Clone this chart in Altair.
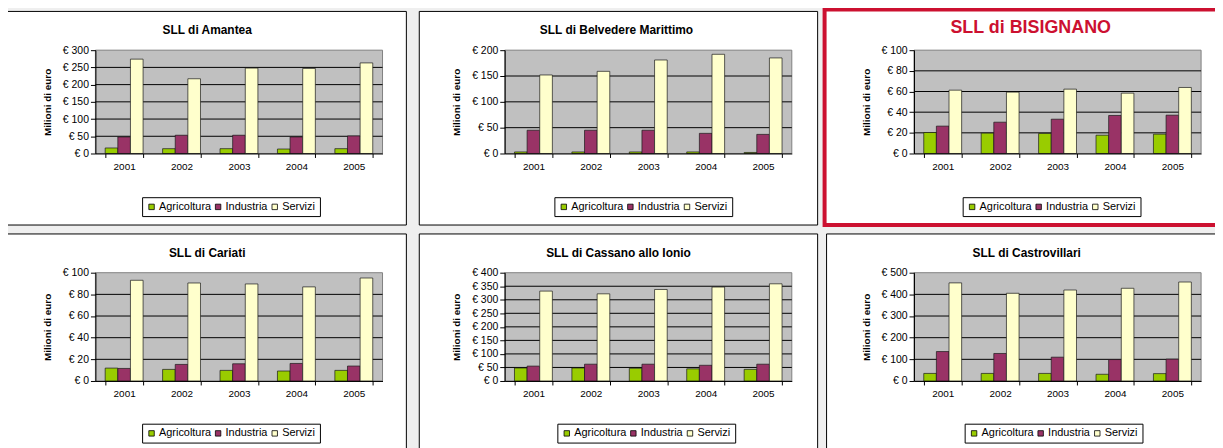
import altair as alt
import pandas as pd

FONT = "Liberation Sans"

anni = ["2001", "2002", "2003", "2004", "2005"]
settori = ["Agricoltura", "Industria", "Servizi"]
colori = ["#99cc00", "#993366", "#ffffcc"]

titoli = ["SLL di Amantea", "SLL di Belvedere Marittimo", "SLL di BISIGNANO",
          "SLL di Cariati", "SLL di Cassano allo Ionio", "SLL di Castrovillari"]

amantea_agr = [16, 14, 14, 13, 14]
amantea_ind = [48, 53, 53, 48, 51]
amantea_ser = [274, 217, 248, 247, 263]

belvedere_agr = [3, 3, 3, 3, 2]
belvedere_ind = [45, 45, 45, 39, 37]
belvedere_ser = [152, 159, 181, 192, 185]

bisignano_agr = [20.3, 19.7, 19.4, 17.7, 18.7]
bisignano_ind = [26.5, 30.3, 33.2, 36.8, 37.1]
bisignano_ser = [61.3, 59.4, 62.3, 58.4, 63.9]

cariati_agr = [11.9, 10.7, 9.8, 9.2, 9.8]
cariati_ind = [11.6, 15.3, 15.9, 16.2, 13.8]
cariati_ser = [93.0, 90.5, 89.6, 86.9, 95.1]

cassano_agr = [48, 48, 47, 45, 43]
cassano_ind = [55, 62, 62, 58, 62]
cassano_ser = [332, 322, 338, 347, 359]

castro_agr = [35, 35, 35, 31, 34]
castro_ind = [136, 127, 110, 99, 101]
castro_ser = [453, 405, 420, 428, 457]

tick_amantea = [0, 50, 100, 150, 200, 250, 300]
tick_belvedere = [0, 50, 100, 150, 200]
tick_bisignano = [0, 20, 40, 60, 80, 100]
tick_cariati = [0, 20, 40, 60, 80, 100]
tick_cassano = [0, 50, 100, 150, 200, 250, 300, 350, 400]
tick_castro = [0, 100, 200, 300, 400, 500]

W = 289
ROW_H = [104, 109]
RED = "#cc1030"


def panel(title, agr, ind, ser, ticks, height, frame, frame_color, frame_w,
          leg, title_size, title_color, title_dx):
    rows = []
    for i, a in enumerate(anni):
        for s, vals in zip(settori, (agr, ind, ser)):
            rows.append({"anno": a, "settore": s, "valore": vals[i]})
    df = pd.DataFrame(rows)
    one = pd.DataFrame({"k": [0]})
    ysc = alt.Scale(domain=[0, ticks[-1]], nice=False, zero=True)
    yaxis = alt.Axis(values=ticks, labelExpr="'€ ' + datum.value",
                     title="Milioni di euro", grid=False, tickSize=5,
                     tickColor="black", domainColor="black", labelFont=FONT,
                     labelFontSize=10.5, labelColor="black", labelPadding=2,
                     titleFont=FONT, titleFontSize=10, titleFontWeight="bold",
                     titleColor="black", titlePadding=10, zindex=1)
    fx0, fx1, fy0, fy1 = frame

    frame_l = alt.Chart(one).mark_rect(
        fill="white", stroke=frame_color, strokeWidth=frame_w
    ).encode(x=alt.value(fx0), x2=alt.value(fx1), y=alt.value(fy0), y2=alt.value(fy1))

    bg = alt.Chart(one).mark_rect(
        fill="#c0c0c0", stroke="#808080", strokeWidth=1
    ).encode(x=alt.value(0), x2=alt.value(W), y=alt.value(0), y2=alt.value(height))

    grid = alt.Chart(pd.DataFrame({"valore": ticks[1:-1]})).mark_rule(
        color="black", strokeWidth=1
    ).encode(y=alt.Y("valore:Q", scale=ysc, axis=yaxis))

    bars = alt.Chart(df).mark_bar(stroke="#1a1a1a", strokeWidth=0.7).encode(
        x=alt.X("anno:N", sort=anni,
                scale=alt.Scale(paddingInner=0.34, paddingOuter=0.17),
                axis=alt.Axis(title=None, labelAngle=0, tickBand="extent", tickSize=4,
                              tickColor="black", domainColor="black", labelFont=FONT,
                              labelFontSize=10, labelColor="black", labelPadding=4,
                              zindex=1)),
        xOffset=alt.XOffset("settore:N", sort=settori,
                            scale=alt.Scale(paddingInner=0, paddingOuter=0)),
        y=alt.Y("valore:Q", scale=ysc, axis=yaxis, stack=None),
        color=alt.Color("settore:N",
                        scale=alt.Scale(domain=settori, range=colori),
                        legend=alt.Legend(title=None, orient="none", legendX=leg[0],
                                          legendY=leg[1], direction="horizontal",
                                          symbolType="square", symbolSize=30,
                                          symbolStrokeColor="black", symbolStrokeWidth=0.8,
                                          labelFont=FONT, labelFontSize=11,
                                          labelColor="black", labelOffset=2,
                                          columnPadding=1, padding=4,
                                          strokeColor="black", fillColor="white")),
    )
    top_outer = fy0 - frame_w / 2.0
    title_bottom = -13
    return alt.layer(frame_l, bg, grid, bars).properties(
        width=W, height=height,
        title=alt.TitleParams(text=title, font=FONT, fontSize=title_size,
                              fontWeight="bold", color=title_color, anchor="middle",
                              frame="group", dx=title_dx,
                              offset=top_outer - title_bottom),
    )


p1 = panel(titoli[0], amantea_agr, amantea_ind, amantea_ser, tick_amantea, ROW_H[0],
           (-89, 313, -39, 176), "black", 1, (47, 148), 12, "black", -32)
p2 = panel(titoli[1], belvedere_agr, belvedere_ind, belvedere_ser, tick_belvedere, ROW_H[0],
           (-86, 315, -39, 176), "black", 1, (50, 148), 12, "black", -32)
p3 = panel(titoli[2], bisignano_agr, bisignano_ind, bisignano_ser, tick_bisignano, ROW_H[0],
           (-90, 320, -41, 176), RED, 4, (49, 148), 18, RED, -27)
p4 = panel(titoli[3], cariati_agr, cariati_ind, cariati_ser, tick_cariati, ROW_H[1],
           (-89, 313, -39, 190), "black", 1, (47, 152), 12, "black", -32)
p5 = panel(titoli[4], cassano_agr, cassano_ind, cassano_ser, tick_cassano, ROW_H[1],
           (-86, 315, -39, 190), "black", 1, (53, 152), 12, "black", -30)
p6 = panel(titoli[5], castro_agr, castro_ind, castro_ser, tick_castro, ROW_H[1],
           (-88, 320, -39, 190), "black", 1, (51, 152), 12, "black", -31)

# With autosize "none" the drawing is exactly padding.left+right by padding.top+bottom.
chart = alt.concat(
    p1, p2, p3, p4, p5, p6, columns=3, bounds="flush", align="all",
    spacing={"row": 273 - 49 - ROW_H[1], "column": 123},
).resolve_scale(
    x="independent", y="independent", color="independent"
).resolve_legend(color="independent").properties(
    background="#efefef",
    padding={"left": 88, "top": 41, "right": 1215 - 88, "bottom": 440 - 41},
    autosize=alt.AutoSizeParams(type="none"),
).configure_view(stroke="transparent")

chart.save("out.html", embed_options={"renderer": "svg", "actions": False})
